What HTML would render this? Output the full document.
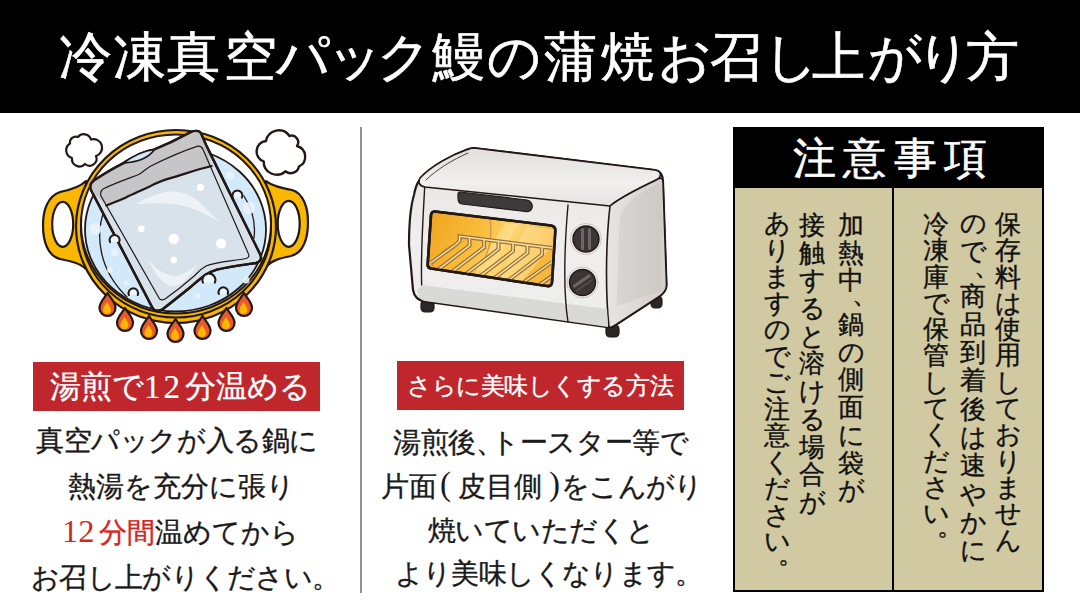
<!DOCTYPE html>
<html><head><meta charset="utf-8">
<style>
html,body{margin:0;padding:0;background:#fff;width:1080px;height:608px;overflow:hidden;position:relative}
body{font-family:"Liberation Serif",serif;color:#1a1a1a}
.t{position:absolute;white-space:nowrap;line-height:1;-webkit-text-stroke:0.35px currentColor}
#hdr{position:absolute;left:0;top:0;width:1080px;height:113px;background:#000}
#vline{position:absolute;left:360px;top:127px;width:2px;height:466px;background:#929292}
.lab{position:absolute;background:#bf272c}
#box{position:absolute;left:733px;top:127px;width:307px;height:461px;border:2px solid #000;background:#d0c9a1}
#boxh{position:absolute;left:733px;top:127px;width:311px;height:61px;background:#000}
#bdiv{position:absolute;left:892px;top:188px;width:2px;height:404px;background:#000}
.v{position:absolute;width:1em;line-height:1;color:#111;-webkit-text-stroke:0.35px currentColor}.v i{display:block;font-style:normal;overflow:visible;white-space:nowrap}
#h1 span{position:absolute;top:0;width:60px;text-align:center}
</style></head><body>
<div id="hdr"></div>
<div class="t" id="h1" style="left:0;top:31px;width:1080px;height:60px;font-size:53px;color:#fff;-webkit-text-stroke:0.7px #fff"><span id="hc0" style="left:55.5px">冷</span><span id="hc1" style="left:109.0px">凍</span><span id="hc2" style="left:163.0px">真</span><span id="hc3" style="left:220.0px">空</span><span id="hc4" style="left:273.3px">パ</span><span id="hc5" style="left:325.2px">ッ</span><span id="hc6" style="left:373.7px">ク</span><span id="hc7" style="left:428.5px">鰻</span><span id="hc8" style="left:484.4px">の</span><span id="hc9" style="left:540.1px">蒲</span><span id="hc10" style="left:597.4px">焼</span><span id="hc11" style="left:655.2px">お</span><span id="hc12" style="left:706.3px">召</span><span id="hc13" style="left:761.2px">し</span><span id="hc14" style="left:808.2px">上</span><span id="hc15" style="left:865.2px">が</span><span id="hc16" style="left:913.7px">り</span><span id="hc17" style="left:962.6px">方</span></div>

<svg id="pot" style="position:absolute;left:0;top:0" width="1080" height="608" viewBox="0 0 1080 608">
<g stroke="#231815" stroke-linejoin="round" stroke-linecap="round">
 <!-- handles -->
 <path d="M86 181 C80 187 70 190 60 192 C48 196 43 210 43 225 C43 242 48 256 60 259 C70 261 80 263 86 269 Z" fill="#f8b800" stroke-width="2.2"/>
 <ellipse cx="62.7" cy="224.3" rx="10.5" ry="22.5" fill="#fff" stroke-width="2.2"/>
 <path d="M266 181 C272 186 282 188 292 190 C303 193 308 207 308 222 C308 239 303 253 291 256 C281 258 272 260 266 267 Z" fill="#f8b800" stroke-width="2.2"/>
 <ellipse cx="288.7" cy="223.8" rx="11" ry="23" fill="#fff" stroke-width="2.2"/>
 <!-- pot body -->
 <ellipse cx="176" cy="226.5" rx="100" ry="96.5" fill="#f8b800" stroke-width="2.2"/>
 <ellipse cx="176" cy="228" rx="95" ry="89.5" fill="none" stroke-width="2"/>
 <ellipse cx="176" cy="224" rx="95" ry="89.5" fill="#fff" stroke-width="2"/>
 <!-- flames -->
 <g stroke-width="2.2">
  <path d="M107.5 293 C109.5 297 115.5 302 115.5 308 A8 8 0 0 1 99.5 308 C99.5 302 105.5 297 107.5 293Z" fill="#ec5a2c"/>
  <path d="M125 308 C127 312 133 317 133 323 A8 8 0 0 1 117 323 C117 317 123 312 125 308Z" fill="#ec5a2c"/>
  <path d="M149 316 C151 320 157 325 157 331 A8 8 0 0 1 141 331 C141 325 147 320 149 316Z" fill="#ec5a2c"/>
  <path d="M175.5 319 C177.5 323 183.5 328 183.5 334 A8 8 0 0 1 167.5 334 C167.5 328 173.5 323 175.5 319Z" fill="#ec5a2c"/>
  <path d="M202.5 316 C204.5 320 210.5 325 210.5 331 A8 8 0 0 1 194.5 331 C194.5 325 200.5 320 202.5 316Z" fill="#ec5a2c"/>
  <path d="M226.5 308 C228.5 312 234.5 317 234.5 323 A8 8 0 0 1 218.5 323 C218.5 317 224.5 312 226.5 308Z" fill="#ec5a2c"/>
  <path d="M244 293 C246 297 252 302 252 308 A8 8 0 0 1 236 308 C236 302 242 297 244 293Z" fill="#ec5a2c"/>
 </g>
 <g stroke="none" fill="#f8b800">
  <path d="M107.0 302 C108.5 305 111.0 307 111.0 310 A4 4 0 0 1 103.0 310 C103.0 307 105.5 305 107.0 302Z"/>
  <path d="M124.5 317 C126.0 320 128.5 322 128.5 325 A4 4 0 0 1 120.5 325 C120.5 322 123.0 320 124.5 317Z"/>
  <path d="M148.5 325 C150.0 328 152.5 330 152.5 333 A4 4 0 0 1 144.5 333 C144.5 330 147.0 328 148.5 325Z"/>
  <path d="M175.0 328 C176.5 331 179.0 333 179.0 336 A4 4 0 0 1 171.0 336 C171.0 333 173.5 331 175.0 328Z"/>
  <path d="M202.0 325 C203.5 328 206.0 330 206.0 333 A4 4 0 0 1 198.0 333 C198.0 330 200.5 328 202.0 325Z"/>
  <path d="M226.0 317 C227.5 320 230.0 322 230.0 325 A4 4 0 0 1 222.0 325 C222.0 322 224.5 320 226.0 317Z"/>
  <path d="M243.5 302 C245.0 305 247.5 307 247.5 310 A4 4 0 0 1 239.5 310 C239.5 307 242.0 305 243.5 302Z"/>
 </g>
 <!-- water -->
 <ellipse cx="175.5" cy="229.5" rx="90.5" ry="82" fill="#d1e9f8" stroke-width="1.8"/>
 <path d="M104 211 C95 236 99 270 127 297 M244 196 C251 207 256 222 254 238" fill="none" stroke-width="1.3"/>
 <g stroke="none" fill="#eaf4fb" opacity="0.9">
  <circle cx="95.5" cy="229" r="6"/><circle cx="249" cy="208" r="6"/><circle cx="230" cy="175.5" r="4"/>
  <circle cx="114.6" cy="252.5" r="4"/><circle cx="110" cy="270" r="3"/><circle cx="246" cy="280" r="3.5"/>
  <circle cx="198" cy="296" r="3"/><circle cx="126" cy="283" r="2.5"/>
 </g>
 <!-- bag -->
 <path d="M94 180.5 C104 174 114 168 122.8 163.7 C133 157 143 151 154 149.7 C168 144 180 138 190.3 132.4 C194 130.5 199 130 201 133.5 L206.7 146.4 L260.5 255 C262 259 260 262 256 263 C243 265 228 267 216.8 269.7 C205 273 198 281 189.7 287.8 C182 294 172 302 163 309 C158 312 154 311 152 307 L91.5 191 C89.5 187 90.5 183 94 180.5Z" fill="#d8e2ea" stroke-width="2.4"/>
 <path d="M94 180.5 C104 174 114 168 122.8 163.7 C133 157 143 151 154 149.7 C168 144 180 138 190.3 132.4 C194 130.5 199 130 201 133.5 L206.7 146.4 L211.6 166 C195 170 185 174 172.2 177.6 C160 181 158 182 150.8 185.9 C140 191 133 194 126 197.4 C118 201 112 203 106.4 205.6 L91.5 191 C89.5 187 90.5 183 94 180.5Z" fill="#c6c6c8" stroke="none"/>
 <path d="M197 146.4 C200 145.5 202 147 203 149.5 L248.5 254 C249.5 256 248.5 258 246 258.5 C232 261 215 262 206 266 C199 270 197 274 193 277 C185 284 175 292 165 299 C162 300.5 160 300 159 298 L101 196 C100 192 101 190 104 188.5 C115 183 127 179 139.3 174.3 C143 172 147 168 150.8 166 C165 159 180 152 197 146.4Z" fill="none" stroke-width="1.2"/>
 <path d="M211.6 166 C195 170 185 174 172.2 177.6 C160 181 158 182 150.8 185.9 C140 191 133 194 126 197.4 C118 201 112 203 106.4 205.6" fill="none" stroke-width="2.2"/>
 <path d="M94 180.5 C104 174 114 168 122.8 163.7 C133 157 143 151 154 149.7 C168 144 180 138 190.3 132.4 C194 130.5 199 130 201 133.5 L206.7 146.4 L260.5 255 C262 259 260 262 256 263 C243 265 228 267 216.8 269.7 C205 273 198 281 189.7 287.8 C182 294 172 302 163 309 C158 312 154 311 152 307 L91.5 191 C89.5 187 90.5 183 94 180.5Z" fill="none" stroke-width="2.4"/>
 <path d="M123.5 163 C133 156 143 151 154.5 149.5 C150 156 140 162 123.5 163Z" fill="#d1e9f8" stroke-width="1.6"/>
 <path d="M136 204 C150 196 165 190 180 192 C196 196 206 208 219 222 C202 211 186 205 171 204 C158 203 147 204 136 204Z" fill="#eef2f6" stroke="none"/>
 <path d="M148 259 C155 275 165 287 175 286 C185 284 192 272 198 264 C188 272 180 277 172 276 C163 274 155 268 148 259Z" fill="#eef2f6" stroke="none"/>
 <g stroke="none" fill="#fff">
  <circle cx="200.4" cy="187.4" r="3.6"/><circle cx="141.2" cy="228.8" r="3.4"/><circle cx="173.8" cy="239" r="5.2"/>
  <circle cx="221" cy="243.6" r="5"/><circle cx="173.8" cy="259.9" r="3.4"/>
 </g>
 <!-- bubble arcs -->
 <g stroke-width="2" fill="#eaf5fc">
  <path d="M110.1 242.1 A5 5 0 1 1 119.1 242.1"/>
  <path d="M232.9 197.6 A5 5 0 1 1 241.9 197.6"/>
  <path d="M128.9 295.0 A4.8 4.8 0 1 1 137.7 295.0"/>
  <path d="M218.9 294.0 A4.8 4.8 0 1 1 227.7 294.0"/>
  <path d="M203.0 282.7 A6.5 6.5 0 1 1 214.8 282.7"/>
 </g>
 <!-- clouds -->
 <path d="M78 137 A7.5 7.5 0 0 1 91 139.5 A8.5 8.5 0 0 1 96 156 A7 7 0 0 1 85 164 A7.5 7.5 0 0 1 72 158 A8 8 0 0 1 70 143.5 A6 6 0 0 1 78 137Z" fill="#fff" stroke-width="2.2"/>
 <path d="M266 141 A13 13 0 0 1 289.5 136 A6.6 6.6 0 0 1 297 146 A11 11 0 0 1 299 166.5 A8.5 8.5 0 0 1 285.4 171.3 A13 13 0 0 1 263.7 161.4 A10.5 10.5 0 0 1 266 141Z" fill="#fff" stroke-width="2.4"/>
</g>
</svg>

<div id="vline"></div>
<svg id="toaster" style="position:absolute;left:0;top:0" width="1080" height="608" viewBox="0 0 1080 608">
<defs>
 <linearGradient id="tg_front" x1="0" y1="0" x2="0" y2="1">
  <stop offset="0" stop-color="#e6e4e2"/><stop offset="0.5" stop-color="#efeeed"/><stop offset="1" stop-color="#ededec"/>
 </linearGradient>
 <linearGradient id="tg_top" x1="0" y1="0" x2="0" y2="1">
  <stop offset="0" stop-color="#e2dfdd"/><stop offset="0.6" stop-color="#f1f0ef"/><stop offset="1" stop-color="#e6e4e2"/>
 </linearGradient>
 <linearGradient id="tg_panel" x1="0" y1="0" x2="1" y2="0"><stop offset="0" stop-color="#d8d5d2"/><stop offset="1" stop-color="#cdc9c5"/></linearGradient>
 <linearGradient id="tg_side" x1="0" y1="0" x2="1" y2="0">
  <stop offset="0" stop-color="#e7e5e3"/><stop offset="1" stop-color="#d2cecb"/>
 </linearGradient>
 <clipPath id="winclip"><path d="M435 211.5 L551 225.5 C554 226 555.5 228 555.3 231 L552 282.5 C551.8 285 550 286.5 547 286 L431 268.5 C428.5 268 427.5 266.5 427.7 264 L431 215 C431.2 212.5 433 211.3 435 211.5Z"/></clipPath>
 <linearGradient id="tg_win" x1="0" y1="0" x2="1" y2="0.3">
  <stop offset="0" stop-color="#f0a21f"/><stop offset="0.45" stop-color="#f8bd3c"/><stop offset="0.7" stop-color="#fcd46e"/><stop offset="1" stop-color="#f6b73a"/>
 </linearGradient>
</defs>
<g stroke="#231815" stroke-linejoin="round" stroke-linecap="round">
 <!-- feet -->
 <rect x="421" y="300" width="13" height="12" rx="4" fill="#2b2726" stroke-width="1.2"/>
 <rect x="606" y="325" width="13" height="12" rx="4" fill="#2b2726" stroke-width="1.2"/>
 <rect x="651" y="296" width="11" height="12" rx="4" fill="#2b2726" stroke-width="1.2"/>
 <!-- whole body silhouette -->
 <path d="M474 148 L655 170 C661 171 663 176 663 182 L666.5 285 C666.5 290 664 293 660 296 L617 324 C613 327 610 327.5 606 327 L425 301.5 C418 300.5 414 296 413 290 L409 245 C409 225 411 205 414 195 C416 184 419 179 426 173 C440 162 455 154 466 150 C469 149 471 148 474 148Z" fill="url(#tg_front)" stroke-width="2.2"/>
 <!-- top surface -->
 <path d="M474 148 L655 170 C661 171 662 176 658 179 C640 188 622 196 610 206 L424.7 187 C419 186 418 182 420 178 C432 165 452 155 466 150 C469 149 471 148 474 148Z" fill="url(#tg_top)" stroke-width="1.6"/>
 <!-- right side -->
 <path d="M610 206 C622 196 640 188 658 179 C661 177 663 179 663 182 L666.5 285 C666.5 290 664 293 660 296 L617 324 C613 327 610 327.5 609 327 C606 300 605 250 610 206Z" fill="url(#tg_side)" stroke-width="1.6"/>
 <path d="M658 184 C645 190 632 198 626 206 C621 212 619 220 619 235 L616.5 306 L661 291 L662 190 C662 186 660 184 658 184Z" fill="url(#tg_panel)" stroke="none"/>
 <path d="M468 153 C452 160 436 170 426 180" fill="none" stroke-width="1" opacity="0.8"/>
 <!-- left side strip line -->
 <path d="M424.7 187 C423 220 420 260 422 292 C422.5 296 424 299 425 301.5" fill="none" stroke-width="1.4"/>
 <!-- bottom band shade -->
 <path d="M422 285 L607 309 L608 327 L425 301 C420 300 418 296 417 290Z" fill="#d9d9d8" stroke="none"/>
 <!-- control panel divider -->
 <path d="M568 205 C565 240 563 290 568 322" fill="none" stroke-width="1.4"/>
 <!-- handle -->
 <path d="M460 192 L527 200 C531 200.5 533 205 532 208 C531 211 528 212 525 211.5 L462 204 C459 203.5 458 201 458 198 L458 194 C458 192.5 459 192 460 192Z" fill="#3d3a3a" stroke-width="1.2"/>
 <!-- window -->
 <path d="M435 211.5 L551 225.5 C554 226 555.5 228 555.3 231 L552 282.5 C551.8 285 550 286.5 547 286 L431 268.5 C428.5 268 427.5 266.5 427.7 264 L431 215 C431.2 212.5 433 211.3 435 211.5Z" fill="url(#tg_win)" stroke-width="2.6"/>
 <path d="M505 223 L518 225 L489 273 L476 271Z M527 226 L556 230 L556 242 L521 282 L498 278Z" fill="#ffeab5" stroke="none" opacity="0.4" clip-path="url(#winclip)"/>
 <!-- grill -->
 <g fill="none" stroke-linejoin="miter" stroke-linecap="butt" clip-path="url(#winclip)">
 <path d="M490 218 C492 235 490 250 483 262 M455 244 C445 248 437 256 432 266" stroke="#c08a4a" stroke-width="1.3" opacity="0.8"/>
  <path d="M430.5 263 L456 244.5 L459.6 241 L459.6 236.3 L552 248" stroke="#9a7233" stroke-width="4"/>
  <path d="M469.5 237.6 L469.5 245.6 L435.5 271.6" stroke="#9a7233" stroke-width="4"/>
  <path d="M484.0 239.4 L484.0 247.4 L450.0 273.4" stroke="#9a7233" stroke-width="4"/>
  <path d="M498.5 241.2 L498.5 249.2 L464.5 275.2" stroke="#9a7233" stroke-width="4"/>
  <path d="M513.0 243.1 L513.0 251.1 L479.0 277.1" stroke="#9a7233" stroke-width="4"/>
  <path d="M527.5 244.9 L527.5 252.9 L493.5 278.9" stroke="#9a7233" stroke-width="4"/>
  <path d="M542.0 246.7 L542.0 254.7 L508.0 280.7" stroke="#9a7233" stroke-width="4"/>
  <path d="M552 262 L520 285" stroke="#9a7233" stroke-width="4"/>
  <path d="M552 276 L538 286" stroke="#9a7233" stroke-width="4"/>
  <path d="M430.5 263 L456 244.5 L459.6 241 L459.6 236.3 L552 248" stroke="#f9e0a6" stroke-width="1.5"/>
  <path d="M469.5 237.6 L469.5 245.6 L435.5 271.6" stroke="#f9e0a6" stroke-width="1.5"/>
  <path d="M484.0 239.4 L484.0 247.4 L450.0 273.4" stroke="#f9e0a6" stroke-width="1.5"/>
  <path d="M498.5 241.2 L498.5 249.2 L464.5 275.2" stroke="#f9e0a6" stroke-width="1.5"/>
  <path d="M513.0 243.1 L513.0 251.1 L479.0 277.1" stroke="#f9e0a6" stroke-width="1.5"/>
  <path d="M527.5 244.9 L527.5 252.9 L493.5 278.9" stroke="#f9e0a6" stroke-width="1.5"/>
  <path d="M542.0 246.7 L542.0 254.7 L508.0 280.7" stroke="#f9e0a6" stroke-width="1.5"/>
  <path d="M552 262 L520 285" stroke="#f9e0a6" stroke-width="1.5"/>
  <path d="M552 276 L538 286" stroke="#f9e0a6" stroke-width="1.5"/>
 </g>
 <path d="M435 211.5 L551 225.5 C554 226 555.5 228 555.3 231 L552 282.5 C551.8 285 550 286.5 547 286 L431 268.5 C428.5 268 427.5 266.5 427.7 264 L431 215 C431.2 212.5 433 211.3 435 211.5Z" fill="none" stroke-width="2.6"/>
 <!-- knobs -->
 <circle cx="586" cy="239" r="15.5" fill="#f3f2f1" stroke="#c9c6c4" stroke-width="1"/>
 <circle cx="586" cy="239" r="13" fill="#3a3636" stroke-width="1.4"/>
 <path d="M582.5 229.5 L582.5 248.5 M589.5 229.5 L589.5 248.5" stroke="#6b6767" stroke-width="3"/>
 <circle cx="582.5" cy="282.5" r="15.5" fill="#f3f2f1" stroke="#c9c6c4" stroke-width="1"/>
 <circle cx="582.5" cy="282.5" r="13" fill="#3a3636" stroke-width="1.4"/>
 <path d="M574.5 286 L589 276" stroke="#6b6767" stroke-width="3.2"/><path d="M577 290.5 L591.5 280.5" stroke="#6b6767" stroke-width="1.5" opacity="0.6"/>
</g>
</svg>


<div class="lab" style="left:33px;top:362px;width:287px;height:49px"></div>
<div class="t" id="lab1" style="left:50px;top:371px;font-size:31px;color:#fff">湯煎で<span id="d2" style="-webkit-text-stroke:0.2px #fff;font-size:33px;line-height:0;letter-spacing:3px;margin:0 2px 0 0;position:relative;top:1px">12</span>分温める</div>
<div class="lab" style="left:397px;top:361px;width:287px;height:49px"></div>
<div class="t" id="lab2" style="left:407px;top:374px;font-size:24px;letter-spacing:-0.45px;color:#fff">さらに美味しくする方法</div>

<div class="t" id="l1" style="left:36px;top:427px;font-size:27.6px;letter-spacing:-0.4px">真空パックが入る鍋に</div>
<div class="t" id="l2" style="left:68px;top:473px;font-size:28px">熱湯を充分に張り</div>
<div class="t" id="l3" style="left:62px;top:519px;font-size:28px"><span style="color:#d7261e"><span id="d1" style="-webkit-text-stroke:0;font-size:32.5px;line-height:0;letter-spacing:0;margin-right:4px;position:relative;top:0px">12</span>分間</span>温めてから</div>
<div class="t" id="l4" style="left:31px;top:564px;font-size:28px;letter-spacing:-0.7px">お召し上がりください。</div>

<div class="t" id="m1" style="left:393px;top:429px;font-size:28px;letter-spacing:-0.3px">湯煎後<span style="margin-right:-13px">、</span>トースター等で</div>
<div class="t" id="m2" style="left:381px;top:473px;font-size:28px">片面<span id="p1" style="-webkit-text-stroke:0;font-size:33px;line-height:0;margin:0 7px 0 3px;position:relative;top:-1px">(</span>皮目側<span id="p2" style="-webkit-text-stroke:0;font-size:33px;line-height:0;margin:0 1px 0 7px;position:relative;top:-1px">)</span><span style="letter-spacing:-0.7px">をこんがり</span></div>
<div class="t" id="m3" style="left:428px;top:517px;font-size:28px;letter-spacing:-0.55px">焼いていただくと</div>
<div class="t" id="m4" style="left:395px;top:560px;font-size:28px;letter-spacing:-0.8px">より美味しくなります。</div>

<div id="box"></div>
<div id="boxh"></div>
<div id="bdiv"></div>
<div class="t" id="ttl" style="left:793px;top:137px;font-size:43px;letter-spacing:7.4px;color:#fff;-webkit-text-stroke:0.6px #fff">注意事項</div>

<!--COLS-->
<div class="v" id="c1" style="left:838px;top:213px;font-size:26px"><i style="height:27.7px">加</i><i style="height:27.7px">熱</i><i style="height:27.7px">中</i><i style="height:16px"><span style="position:relative;left:14px;top:-14px">、</span></i><i style="height:27.7px">鍋</i><i style="height:27.7px">の</i><i style="height:27.7px">側</i><i style="height:27.7px">面</i><i style="height:27.7px">に</i><i style="height:27.7px">袋</i><i style="height:27.7px">が</i></div>
<div class="v" id="c2" style="left:799px;top:213px;font-size:26px"><i style="height:27.7px">接</i><i style="height:27.7px">触</i><i style="height:27.7px">す</i><i style="height:27.7px">る</i><i style="height:27.7px">と</i><i style="height:27.7px">溶</i><i style="height:27.7px">け</i><i style="height:27.7px">る</i><i style="height:27.7px">場</i><i style="height:27.7px">合</i><i style="height:27.7px">が</i></div>
<div class="v" id="c3" style="left:764px;top:211px;font-size:26px"><i style="height:26.5px">あ</i><i style="height:26.5px">り</i><i style="height:26.5px">ま</i><i style="height:26.5px">す</i><i style="height:26.5px">の</i><i style="height:26.5px">で</i><i style="height:26.5px">ご</i><i style="height:26.5px">注</i><i style="height:26.5px">意</i><i style="height:26.5px">く</i><i style="height:26.5px">だ</i><i style="height:26.5px">さ</i><i style="height:26.5px">い</i><i style="height:16px"><span style="position:relative;left:14px;top:-14px">。</span></i></div>
<div class="v" id="r1" style="left:995px;top:212px;font-size:26px"><i style="height:26.3px">保</i><i style="height:26.3px">存</i><i style="height:26.3px">料</i><i style="height:26.3px">は</i><i style="height:26.3px">使</i><i style="height:26.3px">用</i><i style="height:26.3px">し</i><i style="height:26.3px">て</i><i style="height:26.3px">お</i><i style="height:26.3px">り</i><i style="height:26.3px">ま</i><i style="height:26.3px">せ</i><i style="height:26.3px">ん</i></div>
<div class="v" id="r2" style="left:960px;top:211px;font-size:26px"><i style="height:28.3px">の</i><i style="height:28.3px">で</i><i style="height:16px"><span style="position:relative;left:14px;top:-14px">、</span></i><i style="height:28.3px">商</i><i style="height:28.3px">品</i><i style="height:28.3px">到</i><i style="height:28.3px">着</i><i style="height:28.3px">後</i><i style="height:28.3px">は</i><i style="height:28.3px">速</i><i style="height:28.3px">や</i><i style="height:28.3px">か</i><i style="height:28.3px">に</i></div>
<div class="v" id="r3" style="left:923px;top:212px;font-size:26px"><i style="height:26.3px">冷</i><i style="height:26.3px">凍</i><i style="height:26.3px">庫</i><i style="height:26.3px">で</i><i style="height:26.3px">保</i><i style="height:26.3px">管</i><i style="height:26.3px">し</i><i style="height:26.3px">て</i><i style="height:26.3px">く</i><i style="height:26.3px">だ</i><i style="height:26.3px">さ</i><i style="height:26.3px">い</i><i style="height:16px"><span style="position:relative;left:14px;top:-14px">。</span></i></div>
<!--/COLS-->

</body></html>
